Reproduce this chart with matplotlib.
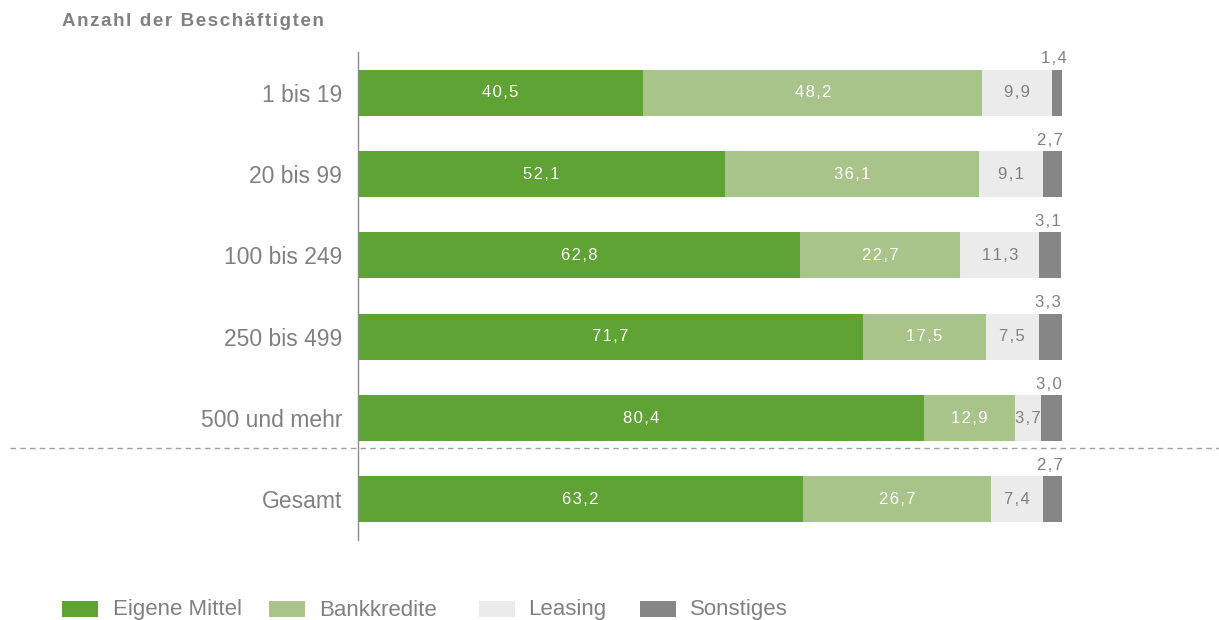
import matplotlib
matplotlib.use("Agg")
import matplotlib.pyplot as plt
from matplotlib.patches import Rectangle
from matplotlib.lines import Line2D
import numpy as np

plt.rcParams['font.family'] = ['Liberation Sans', 'DejaVu Sans']

categories = ["1 bis 19", "20 bis 99", "100 bis 249", "250 bis 499", "500 und mehr", "Gesamt"]
series_names = ["Eigene Mittel", "Bankkredite", "Leasing", "Sonstiges"]
eigene = [40.5, 52.1, 62.8, 71.7, 80.4, 63.2]
bank = [48.2, 36.1, 22.7, 17.5, 12.9, 26.7]
leasing = [9.9, 9.1, 11.3, 7.5, 3.7, 7.4]
sonstiges = [1.4, 2.7, 3.1, 3.3, 3.0, 2.7]

colors = ["#5fa334", "#a8c48a", "#ebebeb", "#868686"]
label_colors = ["white", "white", "#808080", "#808080"]
gray = "#808080"

HS = "\u200a"
def sp(s):
    return HS.join(list(s))

def fmt(v):
    return sp(f"{v:.1f}".replace(".", ","))

W, H = 1219, 620
fig = plt.figure(figsize=(W/100, H/100), dpi=100)
ax = fig.add_axes([358/W, 1-540/H, (1062-358)/W, (540-52)/H])

y = np.arange(len(categories))
left = np.zeros(len(categories))
bh = 0.565
data = [eigene, bank, leasing, sonstiges]
for i, vals in enumerate(data):
    vals = np.array(vals)
    ax.barh(y, vals, left=left, height=bh, color=colors[i], edgecolor='none')
    for j, v in enumerate(vals):
        if i < 3:
            ax.text(left[j] + v/2, y[j], fmt(v), ha='center', va='center',
                    color=label_colors[i], fontsize=12)
        else:
            ax.text(left[j] + v/2 - 0.4, y[j] - bh/2 - 0.04, fmt(v), ha='center',
                    va='bottom', color=gray, fontsize=12)
    left = left + vals

ax.set_xlim(0, 100)
ax.set_ylim(5.5, -0.5)
ax.set_yticks(y)
ax.set_yticklabels(categories, fontsize=16.5, color=gray)
ax.tick_params(axis='y', length=0, pad=11.5)
ax.set_xticks([])
for s in ['top', 'right', 'bottom']:
    ax.spines[s].set_visible(False)
ax.spines['left'].set_color('#8a8a8a')
ax.spines['left'].set_linewidth(1.0)

# dashed separator
fig.add_artist(Line2D([10/W, 1.0], [1-448/H, 1-448/H], transform=fig.transFigure,
                      color='#a0a0a0', linestyle=(0, (4, 3)), linewidth=1.0))

fig.text(62/W, 1-22/H, sp("Anzahl der Beschäftigten"), fontsize=13.5, fontweight='bold',
         color=gray, ha='left', va='center')

# legend (manual placement)
patch_x = [62, 269, 479, 640]
text_x = [113, 319, 528, 690]
for px, tx, c, name in zip(patch_x, text_x, colors, series_names):
    fig.add_artist(Rectangle((px/W, 1-617/H), 36/W, 16/H, transform=fig.transFigure,
                             facecolor=c, edgecolor='none'))
    fig.text(tx/W, 1-610/H, name, fontsize=16, color=gray, ha='left', va='center')

fig.savefig("out.png", dpi=100)
